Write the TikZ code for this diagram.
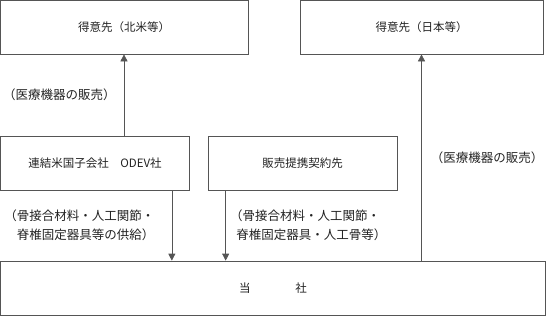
\documentclass[tikz,border=0pt]{standalone}
\usepackage{fontspec}
\setmainfont{Noto Sans CJK JP}
\usetikzlibrary{arrows.meta,positioning}
\definecolor{ink}{HTML}{222222}
\definecolor{rule}{HTML}{555555}

\begin{document}
\begin{tikzpicture}[x=1pt,y=-1pt,
  font=\fontsize{11.5}{15}\selectfont,
  entity/.style={draw=rule,line width=0.7pt,text=ink,
                 minimum height=54pt,inner sep=0pt},
  flow/.style={draw=rule,line width=0.7pt,-{Triangle[width=7pt,length=7pt]}},
  note/.style={text=ink,font=\fontsize{12.5}{19}\selectfont,
               align=left,inner sep=0pt}]
  \useasboundingbox (0,0) rectangle (549,317);
  % customers
  \node[entity,minimum width=248pt] (usa) at (124,27) {得意先（北米等）};
  \node[entity,minimum width=243pt] (jpn) at (421.5,27) {得意先（日本等）};
  % suppliers
  \node[entity,minimum width=189pt] (sub) at (95,163) {連結米国子会社　ODEV社};
  \node[entity,minimum width=189pt] (partner) at (302.5,163) {販売提携契約先};
  % company
  \node[entity,minimum width=545pt] (base) at (273,288) {当\hspace{3.9em}社};
  % flows
  \draw[flow] (sub.north -| usa.south) -- (usa.south)
    node[midway,left=8pt,note] {（医療機器の販売）};
  \draw[flow] (base.north -| jpn.south) -- (jpn.south)
    node[midway,right=9pt,note] {（医療機器の販売）};
  \draw[flow] ([xshift=-18pt]sub.south east) -- ([xshift=-18pt]sub.south east |- base.north)
    node[midway,left=17pt,note] {（骨接合材料・人工関節・\\　脊椎固定器具等の供給）};
  \draw[flow] ([xshift=18pt]partner.south west) -- ([xshift=18pt]partner.south west |- base.north)
    node[midway,right=4pt,note] {（骨接合材料・人工関節・\\\hspace{0.5em}脊椎固定器具・人工骨等）};
\end{tikzpicture}
\end{document}
